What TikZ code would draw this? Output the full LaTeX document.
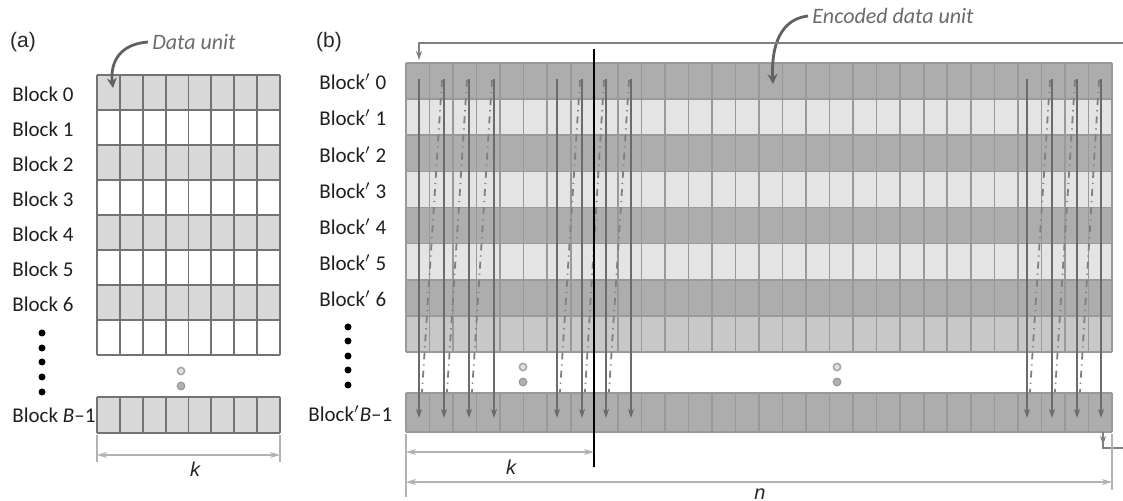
\documentclass[tikz,border=0pt]{standalone}
\usepackage{fontspec}
\setmainfont{Carlito}
\newfontfamily\arialfont{Liberation Sans}
\usetikzlibrary{arrows.meta}
\definecolor{shadeA}{HTML}{D8D8D8}
\definecolor{bDark}{HTML}{ADADAD}
\definecolor{bLight}{HTML}{E4E4E4}
\definecolor{bMid}{HTML}{C8C8C8}
\begin{document}
\begin{tikzpicture}[x=0.5pt,y=-0.5pt,
  lbl/.style={font=\fontsize{10.5}{12}\selectfont, text=black!88, inner sep=0pt, anchor=west},
  tag/.style={font=\arialfont\fontsize{10.5}{12}\selectfont, text=black!85, inner sep=0pt},
  note/.style={font=\fontsize{11}{13}\selectfont\itshape, text=black!58, inner sep=0pt, anchor=west},
  var/.style={font=\arialfont\itshape\fontsize{10}{12}\selectfont, text=black!85, inner sep=0pt},
  gridA/.style={draw=black!55, line width=0.9pt},
  gridB/.style={draw=black!40, line width=0.8pt},
  flow/.style={draw=black!58, line width=0.9pt, -{Stealth[length=4.5pt,width=3pt]}},
  ret/.style={draw=black!50, line width=0.9pt, dash pattern=on 3.5pt off 2.5pt on 0.6pt off 2.5pt},
  wrap/.style={draw=black!50, line width=0.8pt},
  dimline/.style={draw=black!30, line width=0.6pt},
  dimarr/.style={dimline, {Stealth[length=5pt,width=3pt,inset=1.5pt]}-{Stealth[length=5pt,width=3pt,inset=1.5pt]}},
  pointer/.style={draw=black!62, line width=1.4pt, -{Stealth[length=5pt,width=5pt]}},
  bigdot/.style={fill=black},
  ringdot/.style={draw=black!35, line width=0.8pt, fill=black!12},
  fulldot/.style={draw=black!40, line width=0.6pt, fill=black!30},
]
\useasboundingbox (0,0) rectangle (1123,501);

% ---------------- panel (a): k data units per block ----------------
\node[tag] (ta) at (23,42) {(a)};
\node[note] (du) at (152,42) {Data unit};

\foreach \r in {0,2,4,6}
  \fill[shadeA] (97,{75+35*\r}) rectangle (280,{110+35*\r});
\foreach \i in {0,...,8}
  \draw[gridA] ({97+22.875*\i},75) -- ({97+22.875*\i},355);
\foreach \j in {0,...,8}
  \draw[gridA] (97,{75+35*\j}) -- (280,{75+35*\j});
\fill[shadeA] (97,397) rectangle (280,433);
\foreach \i in {0,...,8}
  \draw[gridA] ({97+22.875*\i},397) -- ({97+22.875*\i},433);
\draw[gridA] (97,397) -- (280,397) (97,433) -- (280,433);

\coordinate (duTip) at (113,88);
\draw[pointer] ([xshift=-2pt]du.west) .. controls (120,44) and (110,62) .. (duTip);

\foreach \r in {0,...,6}
  \node[lbl] (a\r) at (12,{94+35*\r}) {Block \r};
\node[lbl] (aB) at (12,415) {Block \textit{B}–1};
\foreach \y in {333,348,362,377,392}
  \fill[bigdot] (42,\y) circle[radius=1.75pt];
\draw[ringdot] (181,371) circle[radius=1.8pt];
\draw[fulldot] (181,386) circle[radius=1.9pt];

\draw[dimline] (97,435) -- (97,462) (280,435) -- (280,462);
\draw[dimarr] (97,455) -- (280,455);
\node[var] (ka) at (195,469) {k};

% ---------------- panel (b): n encoded units per block ----------------
\node[tag] (tb) at (329,42) {(b)};
\node[note] (edu) at (812,16) {Encoded data unit};

\foreach \r/\c in {0/bDark,1/bLight,2/bDark,3/bLight,4/bDark,5/bLight,6/bDark,7/bMid}
  \fill[\c] (406,{63+36.125*\r}) rectangle (1112,{63+36.125*(\r+1)});
\fill[bDark] (406,393) rectangle (1112,432);
\foreach \i in {0,...,30} {
  \draw[gridB] ({406+23.533*\i},63) -- ({406+23.533*\i},352);
  \draw[gridB] ({406+23.533*\i},393) -- ({406+23.533*\i},432);
}
\foreach \j in {0,...,8}
  \draw[gridB] (406,{63+36.125*\j}) -- (1112,{63+36.125*\j});
\draw[gridB] (406,393) -- (1112,393) (406,432) -- (1112,432);

\foreach \r in {0,...,6}
  \node[lbl] (b\r) at (319,{82+36.125*\r}) {Block$^{\prime}$ \r};
\node[lbl] (bB) at (308,414) {Block$^{\prime}$\textit{B}–1};
\foreach \y in {327,341,356,370,385}
  \fill[bigdot] (348,\y) circle[radius=1.75pt];
\draw[ringdot] (523,367) circle[radius=1.8pt];
\draw[fulldot] (523,382) circle[radius=1.9pt];
\draw[ringdot] (837,367) circle[radius=1.8pt];
\draw[fulldot] (837,382) circle[radius=1.9pt];

% column-wise transmission order
\foreach \x in {419,444,469,494,557,582,606,631,1027,1052,1077,1101} {
  \coordinate (s\x) at (\x,79);
  \coordinate (e\x) at (\x,418);
  \draw[flow] (s\x) -- (e\x);
}
\foreach \a/\b in {419/444,444/469,469/494,557/582,582/606,606/631,1027/1052,1052/1077,1077/1101} {
  \coordinate (rt\a) at ({\b-2},80);
  \coordinate (rb\a) at ({\a+3},392);
  \draw[ret] (rt\a) -- (rb\a);
}

\coordinate (eduTip) at (773,84);
\draw[pointer] ([xshift=-2pt]edu.west) .. controls (781,19) and (771,45) .. (eduTip);

% wrap-around from the last block to the next one
\coordinate (wTop) at (419,60);
\coordinate (wOut) at (1123,43);
\draw[wrap, -{Stealth[length=4.5pt,width=3pt]}] (wOut) -| (wTop);
\coordinate (wBot) at (1103,432);
\coordinate (wEnd) at (1123,448);
\draw[wrap] (wBot) |- (wEnd);
\draw[wrap, -{Stealth[length=4.5pt,width=3pt]}] (wBot) -- (1103,445);

% boundary after the first k columns
\coordinate (kTop) at (594,49);
\coordinate (kBot) at (594,467);
\draw[line width=1.1pt, black] (kTop) -- (kBot);

\draw[dimline] (406,434) -- (406,497) (1112,434) -- (1112,490);
\draw[dimarr] (406,452) -- (kBot |- 0,452);
\node[var] (kb) at (511,467) {k};
\draw[dimarr] (406,482) -- (1112,482);
\node[var] (nb) at (760,494) {n};
\end{tikzpicture}
\end{document}
